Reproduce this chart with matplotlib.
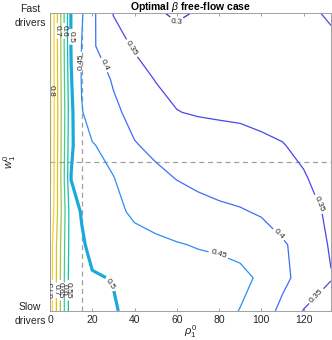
import numpy as np
import matplotlib
matplotlib.use('Agg')
import matplotlib.pyplot as plt
from matplotlib.colors import LinearSegmentedColormap, Normalize

plt.rcParams['font.family'] = ['Liberation Sans', 'DejaVu Sans']
plt.rcParams['mathtext.fontset'] = 'custom'
plt.rcParams['mathtext.rm'] = 'Liberation Sans'
plt.rcParams['mathtext.it'] = 'Liberation Sans:italic'
plt.rcParams['mathtext.bf'] = 'Liberation Sans:bold'

############################### data #####################
rho = [0, 10, 15, 20, 30, 40, 50, 60, 70, 80, 90, 100, 110, 120, 133]
w = np.linspace(0, 1, 10)  # slow drivers (0) ... fast drivers (1)

# optimal beta, one row per w value (bottom -> top)
beta_w0 = [0.780, 0.515, 0.512, 0.510, 0.503, 0.490, 0.480, 0.475, 0.470, 0.460, 0.449, 0.420, 0.390, 0.348, 0.330]
beta_w1 = [0.780, 0.515, 0.510, 0.503, 0.4985, 0.490, 0.480, 0.475, 0.470, 0.462, 0.458, 0.445, 0.410, 0.385, 0.352]
beta_w2 = [0.780, 0.520, 0.505, 0.490, 0.485, 0.470, 0.460, 0.453, 0.447, 0.445, 0.440, 0.425, 0.405, 0.385, 0.345]
beta_w3 = [0.799, 0.520, 0.497, 0.490, 0.465, 0.440, 0.430, 0.420, 0.415, 0.410, 0.404, 0.395, 0.380, 0.360, 0.345]
beta_w4 = [0.810, 0.499, 0.485, 0.470, 0.451, 0.435, 0.410, 0.399, 0.390, 0.380, 0.375, 0.370, 0.362, 0.352, 0.340]
beta_w5 = [0.810, 0.505, 0.480, 0.452, 0.440, 0.403, 0.390, 0.380, 0.370, 0.363, 0.360, 0.355, 0.351, 0.345, 0.340]
beta_w6 = [0.810, 0.510, 0.452, 0.435, 0.410, 0.385, 0.370, 0.351, 0.347, 0.346, 0.345, 0.343, 0.342, 0.343, 0.343]
beta_w7 = [0.810, 0.503, 0.447, 0.430, 0.395, 0.370, 0.348, 0.340, 0.335, 0.335, 0.336, 0.338, 0.340, 0.342, 0.343]
beta_w8 = [0.810, 0.497, 0.449, 0.406, 0.370, 0.345, 0.335, 0.327, 0.325, 0.328, 0.330, 0.333, 0.336, 0.338, 0.340]
beta_w9 = [0.810, 0.496, 0.455, 0.410, 0.348, 0.325, 0.308, 0.290, 0.305, 0.315, 0.320, 0.325, 0.330, 0.340, 0.356]

levels = [0.3, 0.35, 0.4, 0.45, 0.5, 0.55, 0.6, 0.65, 0.7, 0.75, 0.8]
rho_ref = 15    # dashed reference lines
w_ref = 0.5
ytick_labels = ['Slow\ndrivers', 'Fast\ndrivers']

# where the contour labels sit: level -> list of (rho, w)
label_spots = {
    0.3: [(59.4, 0.966)],
    0.35: [(39, 0.883), (126.4, 0.356), (125.5, 0.054)],
    0.4: [(23.6, 0.819), (109, 0.262)],
    0.45: [(14.8, 0.836), (79.7, 0.188)],
    0.5: [(9.9, 0.92), (28.5, 0.09)],
    0.55: [(8.6, 0.07)],
    0.6: [(6.7, 0.94), (7.1, 0.07)],
    0.65: [(4.4, 0.07)],
    0.7: [(3.5, 0.94), (2.7, 0.07)],
    0.75: [(1.1, 0.07)],
    0.8: [(0.3, 0.74)],
}

# parula (subset of the 64 entry table)
parula = LinearSegmentedColormap.from_list('parula', [
    (0.0,    (0.2422, 0.1504, 0.6603)),
    (6/63,   (0.2783, 0.2559, 0.8991)),
    (12/63,  (0.2699, 0.3892, 0.9906)),
    (18/63,  (0.1786, 0.5289, 0.9682)),
    (24/63,  (0.1248, 0.6459, 0.8883)),
    (30/63,  (0.0067, 0.7312, 0.7660)),
    (36/63,  (0.2161, 0.7843, 0.5923)),
    (42/63,  (0.5044, 0.7993, 0.3480)),
    (48/63,  (0.8203, 0.7498, 0.1535)),
    (54/63,  (0.9970, 0.7659, 0.2199)),
    (60/63,  (0.9597, 0.9135, 0.1423)),
    (1.0,    (0.9769, 0.9839, 0.0805)),
])

beta = np.array([beta_w0, beta_w1, beta_w2, beta_w3, beta_w4,
                 beta_w5, beta_w6, beta_w7, beta_w8, beta_w9])

############################### plot #####################
fig = plt.figure(figsize=(3.32, 3.40), dpi=100)
ax = fig.add_axes([50/332, 29/340, 281/332, 298/340])
ax.set_xlim(0, 133)
ax.set_ylim(0, 1)

ax.axvline(rho_ref, color='#a0a0a0', lw=0.9, ls=(0, (4, 3)), zorder=1.5)
ax.axhline(w_ref, color='#a0a0a0', lw=0.9, ls=(0, (4, 3)), zorder=1.5)

# one contour set per level, so every level can get its own labels
norm = Normalize(beta.min(), beta.max())
for lev in levels:
    cs = ax.contour(rho, w, beta, levels=[lev], colors=[parula(norm(lev))],
                    linewidths=2.3 if lev == 0.5 else 0.9, zorder=2)
    ax.clabel(cs, manual=label_spots[lev], inline=True, inline_spacing=2,
              fontsize=6, fmt='%g', colors='#262626')
ax.set_xlim(0, 133)
ax.set_ylim(0, 1)

# graphics:
ax.set_xticks([0, 20, 40, 60, 80, 100, 120])
ax.set_yticks([0, 1])
ax.set_yticklabels(ytick_labels)
ax.tick_params(direction='in', length=2.5, width=0.6, color='#909090',
               top=True, right=True, labelsize=7.5, labelcolor='#262626', pad=3)
for lbl in ax.get_yticklabels():
    lbl.set_multialignment('center')
    lbl.set_linespacing(1.5)
for sp in ax.spines.values():
    sp.set_color('#a0a0a0')
    sp.set_linewidth(0.7)

ax.set_xlabel(r'$\rho_1^0$', fontsize=8, color='#262626', labelpad=-1.5)
ax.set_ylabel(r'$w_1^0$', fontsize=8, color='#262626')
ax.yaxis.set_label_coords(-0.115, 0.5)
ax.set_title(r'Optimal $\beta$ free-flow case', fontsize=7.5, fontweight='bold', pad=2)

fig.savefig('out.png', dpi=100)
